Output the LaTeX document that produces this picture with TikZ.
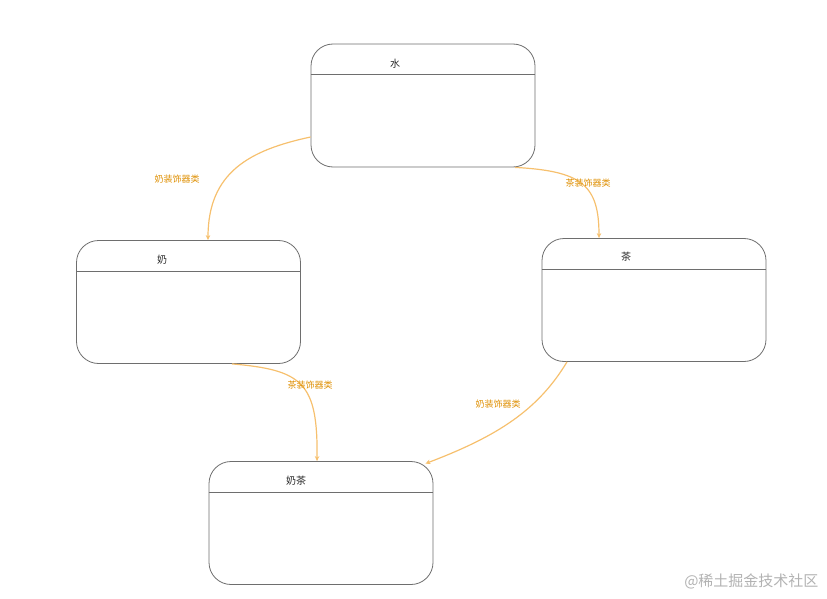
\documentclass[tikz,border=0pt]{standalone}
\usepackage{fontspec}
\setmainfont{Noto Sans CJK SC}
\usepackage{tikz}
\usetikzlibrary{arrows.meta, positioning, calc}
\definecolor{RandGrau}{RGB}{110,110,110}
\definecolor{PfeilOrange}{RGB}{246,192,110}
\definecolor{TextOrange}{RGB}{222,142,0}

\begin{document}
\begin{tikzpicture}[x=1pt, y=-1pt,
	kasten/.style={draw=RandGrau, line width=0.8pt, rounded corners=22pt,
		minimum width=224pt, minimum height=123pt, fill=white},
	titel/.style={font=\fontsize{10}{12}\selectfont, text=black!85},
	trenn/.style={draw=RandGrau, line width=0.7pt},
	pfeil/.style={draw=PfeilOrange, line width=1.2pt, -{Stealth[length=5pt, width=4.5pt]}},
	beschr/.style={font=\fontsize{9}{10}\selectfont, text=TextOrange}]

	\useasboundingbox (0,0) rectangle (827,599);

	% die vier klassen
	\node[kasten] (shui)   at (423,105.5) {};
	\node[kasten] (nai)    at (188.5,302) {};
	\node[kasten] (cha)    at (654,300)   {};
	\node[kasten] (naicha) at (321,523)   {};

	\foreach \k in {shui, nai, cha, naicha}{
		\draw[trenn] ([yshift=-31pt]\k.north west) -- ([yshift=-31pt]\k.north east);
	}

	\node[titel] (shui-t)   at (395,64)  {水};
	\node[titel] (nai-t)    at (162,260) {奶};
	\node[titel] (cha-t)    at (626,257) {茶};
	\node[titel] (naicha-t) at (296,481) {奶茶};

	% dekorator-pfeile
	\draw[pfeil] ([yshift=-31.5pt]shui.west) .. controls (250,150) and (208,172) .. ([xshift=19.5pt]nai.north);
	\draw[pfeil] ([xshift=92pt]shui.south) .. controls (582,171) and (599,185) .. ([xshift=-55pt]cha.north);
	\draw[pfeil] ([xshift=43.5pt]nai.south) .. controls (302,370) and (318,382) .. ([xshift=-4pt]naicha.north);
	\draw[pfeil] ([xshift=-87pt]cha.south) .. controls (538,410) and (498,436) .. ([xshift=-8pt,yshift=-2.5pt]naicha.north east);

	\node[beschr] (l1) at (177,179) {奶装饰器类};
	\node[beschr] (l2) at (588,183) {茶装饰器类};
	\node[beschr] (l3) at (310,385) {茶装饰器类};
	\node[beschr] (l4) at (498,404) {奶装饰器类};

	\node[text=black!30, font=\fontsize{15}{18}\selectfont, anchor=east] (wz) at (822,581) {@稀土掘金技术社区};
\end{tikzpicture}
\end{document}
